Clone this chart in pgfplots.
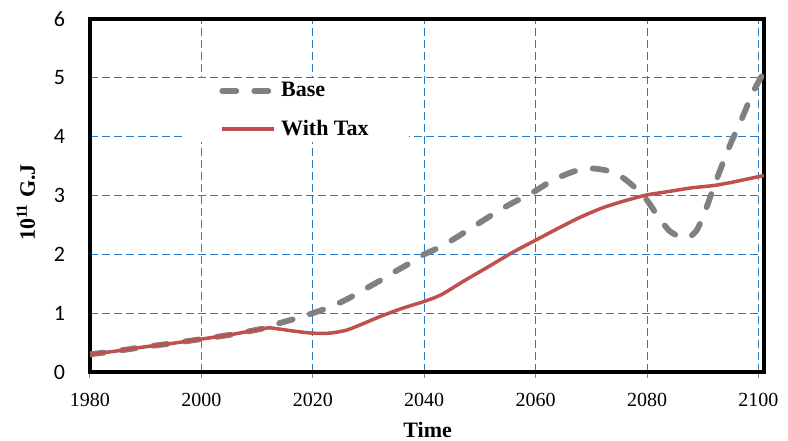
\documentclass[border=0pt]{standalone}
\usepackage{fontspec}
\setmainfont{Liberation Serif}
\newfontfamily\calibri{Carlito}
\usepackage{pgfplots}
\pgfplotsset{compat=1.18}
\definecolor{basegray}{RGB}{128,128,128}
\definecolor{taxred}{RGB}{192,80,77}
\definecolor{gridblue}{RGB}{40,125,200}

% Energy use, 10^11 GJ, with and without the tax
\pgfplotstableread{
year value
1980 0.30
1985 0.36
1990 0.43
1995 0.49
2000 0.56
2005 0.63
2009 0.70
2012 0.76
2014 0.83
2017 0.91
2020 1.00
2023 1.10
2026 1.23
2029 1.39
2032 1.55
2035 1.72
2038 1.88
2040 2.00
2043 2.13
2046 2.30
2049 2.48
2052 2.66
2055 2.83
2058 2.98
2060 3.08
2062 3.20
2064 3.30
2066 3.38
2068 3.44
2070 3.46
2072 3.44
2074 3.39
2076 3.28
2078 3.12
2080 2.92
2082 2.64
2084 2.40
2086 2.29
2087 2.28
2088 2.32
2089 2.42
2090 2.63
2091 2.88
2092 3.15
2093 3.40
2095 3.88
2097 4.30
2099 4.75
2101 5.10
}\basedata

\pgfplotstableread{
year value
1980 0.30
1985 0.36
1990 0.43
1995 0.49
2000 0.56
2005 0.63
2009 0.70
2012 0.75
2014 0.73
2017 0.69
2020 0.66
2023 0.66
2026 0.71
2029 0.82
2032 0.94
2036 1.08
2040 1.20
2043 1.31
2047 1.54
2051 1.76
2056 2.04
2060 2.24
2064 2.44
2068 2.63
2072 2.79
2076 2.91
2080 3.01
2084 3.07
2088 3.13
2092 3.17
2095 3.22
2098 3.28
2101 3.34
}\taxdata

\begin{document}
\begin{tikzpicture}
\useasboundingbox (-45pt,-34pt) rectangle (349pt,186pt);
\begin{axis}[
  scale only axis, width=337pt, height=176.5pt,
  xmin=1980, xmax=2101, ymin=0, ymax=6,
  xtick={1980,2000,...,2100}, ytick={0,1,...,6},
  /pgf/number format/1000 sep={},
  /pgf/number format/assume math mode=true,
  axis line style={line width=2pt, black},
  grid=major,
  major grid style={gridblue, line width=0.5pt, dash pattern=on 4pt off 2pt},
  tick align=outside,
  xtick pos=left, ytick pos=left,
  major tick length=3pt,
  xtick style={gray, line width=0.5pt},
  ytick style={draw=none},
  xticklabel style={font=\fontsize{10}{12}\selectfont, yshift=-4pt},
  yticklabel style={font=\calibri\fontsize{11}{13}\selectfont, xshift=-6pt},
  xlabel={\textbf{Time}},
  ylabel={\textbf{10\textsuperscript{11} G.J}},
  label style={font=\fontsize{11}{13}\selectfont},
  xlabel style={at={(axis description cs:0.501,-0.165)}, anchor=center},
  ylabel style={at={(axis description cs:-0.095,0.48)}, anchor=center},
  legend style={at={(axis description cs:0.138,0.833)}, anchor=north west,
    draw=none, fill=white, inner xsep=18pt, inner ysep=0pt,
    font=\bfseries\fontsize{11}{13}\selectfont, row sep=6pt},
  legend cell align=left,
  legend image code/.code={\draw[#1] (0pt,0pt) -- (26pt,0pt);},
]
\addplot[basegray, line width=2.9pt, line cap=round, dash pattern=on 7pt off 9pt, smooth, tension=0.4]
  table[x=year, y=value] {\basedata};
\addlegendentry{Base}
\addplot[taxred, line width=1.75pt, smooth, tension=0.4]
  table[x=year, y=value] {\taxdata};
\addlegendentry{With Tax}
\end{axis}
\end{tikzpicture}
\end{document}
